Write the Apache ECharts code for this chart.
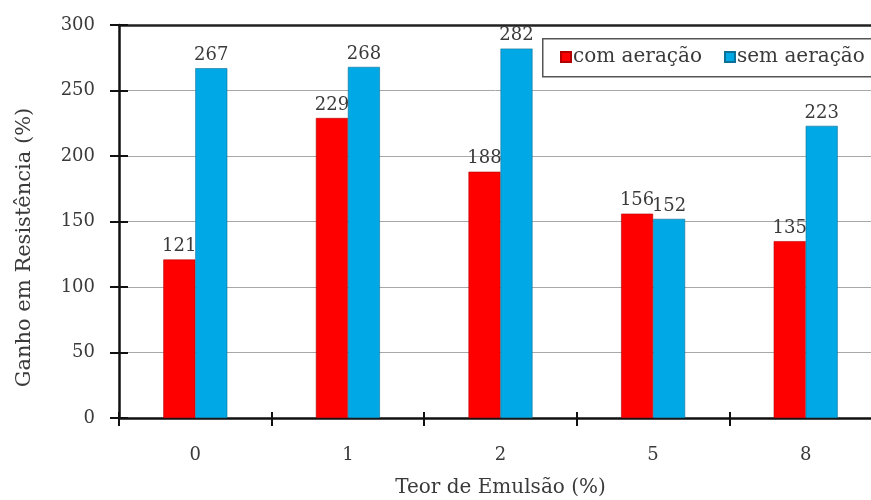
<!DOCTYPE html>
<html>
<head>
<meta charset="utf-8">
<script src="https://cdn.jsdelivr.net/npm/echarts@6/dist/echarts.min.js"></script>
<style>
  html, body { margin: 0; padding: 0; background: #fff; }
  #chart { width: 871px; height: 500px; }
</style>
</head>
<body>
<div id="chart"></div>
<script>
// Emulsion content categories (%)
const categories = ['0', '1', '2', '5', '8'];
// Strength gain (%) per series
const comAeracao = [121, 229, 188, 156, 135];
const semAeracao = [267, 268, 282, 152, 223];
const seriesNames = ['com aeração', 'sem aeração'];
// Value-axis tick range
const yMin = 0, yMax = 300, yStep = 50;

const serif = '"DejaVu Serif", "Liberation Serif", serif';
const textColor = '#3a3a3a';

const chart = echarts.init(document.getElementById('chart'));

const labelStyle = {
  show: true,
  position: 'top',
  distance: 4,
  fontFamily: serif,
  fontSize: 18,
  color: textColor
};

chart.setOption({
  animation: false,
  grid: { left: 119, top: 25, width: 763, height: 393, outerBoundsMode: 'none' },
  // legend frame, running off the right edge of the canvas
  graphic: [{
    type: 'rect',
    left: 542,
    top: 38,
    z: 5,
    shape: { width: 360, height: 38 },
    style: { fill: '#fff', stroke: '#555', lineWidth: 1.5 }
  }],
  legend: {
    data: seriesNames,
    left: 542,
    top: 38,
    width: 400,
    orient: 'horizontal',
    icon: 'rect',
    itemWidth: 10,
    itemHeight: 10,
    itemGap: 22,
    z: 10,
    padding: [9, 0, 9, 18],
    textStyle: { fontFamily: serif, fontSize: 20, color: textColor, padding: [0, 0, 0, -3] }
  },
  xAxis: [
    {
      type: 'category',
      data: categories,
      position: 'bottom',
      name: 'Teor de Emulsão (%)',
      nameLocation: 'middle',
      nameGap: 60,
      nameTextStyle: { fontFamily: serif, fontSize: 20, color: textColor },
      axisLine: { lineStyle: { color: '#111', width: 2.5 } },
      axisTick: { show: true, length: 8, lineStyle: { color: '#111', width: 2 } },
      axisLabel: { fontFamily: serif, fontSize: 18, color: textColor, margin: 28 },
      splitLine: { show: false }
    },
    {
      // upper half of the crossing category ticks
      type: 'category',
      data: categories,
      position: 'bottom',
      axisLine: { show: false },
      axisTick: { show: true, inside: true, length: 6, lineStyle: { color: '#111', width: 2 } },
      axisLabel: { show: false }
    },
    {
      // frame line along the top of the plot
      type: 'category',
      data: categories,
      position: 'top',
      axisLine: { show: true, lineStyle: { color: '#222', width: 2.5 } },
      axisTick: { show: false },
      axisLabel: { show: false }
    }
  ],
  yAxis: [
    {
      type: 'value',
      min: yMin,
      max: yMax,
      interval: yStep,
      name: 'Ganho em Resistência (%)',
      nameLocation: 'middle',
      nameGap: 84,
      nameTextStyle: { fontFamily: serif, fontSize: 21, color: textColor, padding: [0, 52, 0, 0] },
      axisLine: { show: true, lineStyle: { color: '#111', width: 2.5 } },
      axisTick: { show: true, length: 9, lineStyle: { color: '#111', width: 2 } },
      axisLabel: { fontFamily: serif, fontSize: 18, color: textColor, margin: 24 },
      splitLine: { show: true, lineStyle: { color: '#a8a8a8', width: 1 } }
    },
    {
      // right half of the crossing value ticks
      type: 'value',
      min: yMin,
      max: yMax,
      interval: yStep,
      position: 'left',
      axisLine: { show: false },
      axisTick: { show: true, inside: true, length: 9, lineStyle: { color: '#111', width: 2 } },
      axisLabel: { show: false },
      splitLine: { show: false }
    }
  ],
  series: [
    {
      name: seriesNames[0],
      type: 'bar',
      data: comAeracao,
      barWidth: 32,
      barGap: '0%',
      itemStyle: { color: '#ff0000', borderColor: '#b30000', borderWidth: 0.6 },
      label: labelStyle
    },
    {
      name: seriesNames[1],
      type: 'bar',
      data: semAeracao,
      barWidth: 32,
      barGap: '0%',
      itemStyle: { color: '#00a9e6', borderColor: '#0b6f96', borderWidth: 0.6 },
      label: labelStyle
    }
  ]
});
</script>
</body>
</html>
